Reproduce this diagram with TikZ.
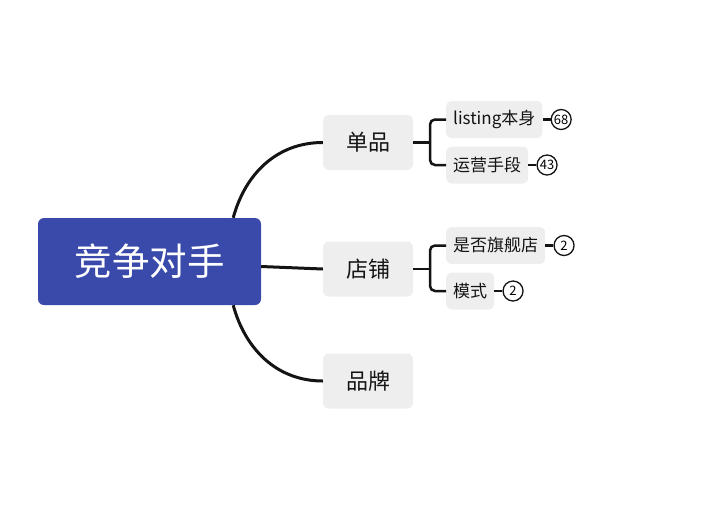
\documentclass[tikz,border=0pt]{standalone}
\usepackage{fontspec}
\setmainfont{Noto Sans CJK SC}
\usetikzlibrary{positioning}
\definecolor{rootblue}{RGB}{58,74,170}
\definecolor{boxgray}{RGB}{238,238,238}
\definecolor{linegray}{RGB}{20,20,20}

\begin{document}
\begin{tikzpicture}[x=1pt,y=-1pt,node distance=8pt,
  root/.style={fill=rootblue,text=white,rounded corners=6pt,minimum width=223pt,minimum height=87pt,font=\fontsize{37.5}{42}\selectfont},
  topic/.style={fill=boxgray,text=linegray,rounded corners=6pt,minimum width=90pt,minimum height=55pt,font=\fontsize{22}{26}\selectfont},
  sub/.style={fill=boxgray,text=linegray,rounded corners=5pt,inner xsep=7pt,minimum height=37pt,font=\fontsize{17}{20}\selectfont},
  badge/.style={circle,draw=linegray,line width=1.3pt,fill=white,minimum size=20pt,inner sep=0pt,font=\fontsize{13}{15}\selectfont},
  conn/.style={draw=linegray,line width=3pt},
  subconn/.style={draw=linegray,line width=2.5pt,rounded corners=5pt}]
  \useasboundingbox (0,0) rectangle (726,531);
  \node[root] (R) at (149.5,261.5) {竞争对手};
  \node[topic] (A) at (368,142.5) {单品};
  \node[topic] (B) at (368,269) {店铺};
  \node[topic] (C) at (368,381) {品牌};
  \node[sub,anchor=west] (A1) at (446,119.5) {listing本身};
  \node[sub,anchor=west] (A2) at (446,165) {运营手段};
  \node[sub,anchor=west] (B1) at (446,245.5) {是否旗舰店};
  \node[sub,anchor=west] (B2) at (446,291) {模式};
  \node[badge,right=of A1] (N1) {68};
  \node[badge,right=of A2] (N2) {43};
  \node[badge,right=of B1] (N3) {2};
  \node[badge,right=of B2] (N4) {2};
  \draw[conn] ([xshift=-28pt]R.north east) .. controls +(12,-44) and +(-46,0) .. (A.west);
  \draw[conn] ([yshift=-5pt]R.east) -- (B.west);
  \draw[conn] ([xshift=-28pt]R.south east) .. controls +(12,44) and +(-46,0) .. (C.west);
  \draw[subconn] (A.east) -- ++(17,0);
  \draw[subconn] (A1.west) -- ++(-16,0) |- (A2.west);
  \draw[subconn] (B.east) -- ++(17,0);
  \draw[subconn] (B1.west) -- ++(-16,0) |- (B2.west);
  \draw[subconn] (A1) -- (N1);
  \draw[subconn] (A2) -- (N2);
  \draw[subconn] (B1) -- (N3);
  \draw[subconn] (B2) -- (N4);
\end{tikzpicture}
\end{document}
